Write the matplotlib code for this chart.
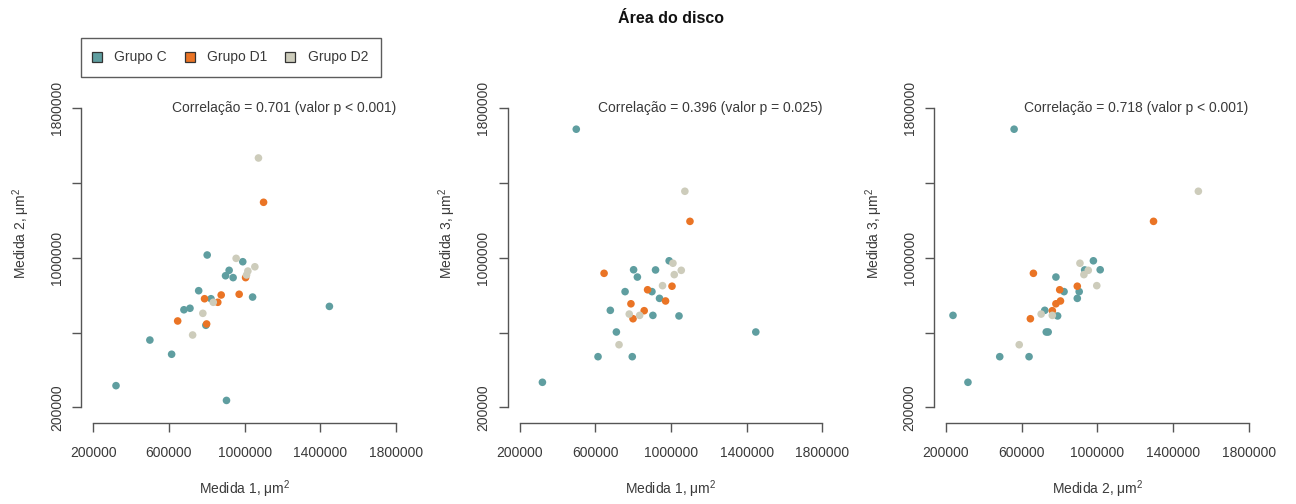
import numpy as np
import matplotlib
matplotlib.use('Agg')
import matplotlib.pyplot as plt
from matplotlib.lines import Line2D

plt.rcParams['font.family'] = ['Liberation Sans', 'DejaVu Sans']
plt.rcParams['mathtext.fontset'] = 'custom'
plt.rcParams['mathtext.rm'] = 'Liberation Sans'
plt.rcParams['mathtext.it'] = 'Liberation Sans:italic'

# areas (um^2) for each disc, three measurements per disc
grupo_c_m1 = [499000, 320000, 614000, 795000, 711000, 679000, 757000, 802000,
              822000, 899000, 918000, 939000, 904000, 990000, 1042000, 1448000]
grupo_c_m2 = [560000, 316000, 484000, 639000, 730000, 722000, 824000, 1015000,
              781000, 904000, 933000, 894000, 237000, 979000, 790000, 740000]
grupo_c_m3 = [1688000, 334000, 471000, 471000, 603000, 719000, 819000, 936000,
              897000, 819000, 935000, 783000, 692000, 984000, 689000, 603000]

grupo_d1_m1 = [646000, 788000, 799000, 858000, 876000, 971000, 1005000, 1100000]
grupo_d1_m2 = [662000, 781000, 646000, 762000, 801000, 805000, 894000, 1297000]
grupo_d1_m3 = [917000, 754000, 674000, 717000, 829000, 769000, 848000, 1195000]

grupo_d2_m1 = [725000, 779000, 834000, 955000, 1010000, 1017000, 1054000, 1073000]
grupo_d2_m2 = [587000, 703000, 762000, 997000, 908000, 929000, 952000, 1534000]
grupo_d2_m3 = [535000, 699000, 692000, 851000, 971000, 910000, 933000, 1356000]

grupos = ['Grupo C', 'Grupo D1', 'Grupo D2']
cores = ['#5F9EA0', '#EA7425', '#CDCCBB']

medidas = {
    'Grupo C':  [grupo_c_m1, grupo_c_m2, grupo_c_m3],
    'Grupo D1': [grupo_d1_m1, grupo_d1_m2, grupo_d1_m3],
    'Grupo D2': [grupo_d2_m1, grupo_d2_m2, grupo_d2_m3],
}

# (x measure, y measure, annotation)
paineis = [
    (0, 1, 'Correlação = 0.701 (valor p < 0.001)'),
    (0, 2, 'Correlação = 0.396 (valor p = 0.025)'),
    (1, 2, 'Correlação = 0.718 (valor p < 0.001)'),
]

ticks = [200000, 600000, 1000000, 1400000, 1800000]
ytick_labels = ['200000', '', '1000000', '', '1800000']

cinza = '#3a3a3a'
W, H = 1296, 504

fig = plt.figure(figsize=(W / 100, H / 100), dpi=100)

lefts_px = [81.2, 507.6, 933.9]
width_px = 326.9
top_px, bottom_px = 96.3, 419.3
height_px = bottom_px - top_px

pad = 0.04 * (ticks[-1] - ticks[0])

for i, (ix, iy, texto) in enumerate(paineis):
    ax = fig.add_axes([lefts_px[i] / W, 1 - bottom_px / H,
                       width_px / W, height_px / H])

    for g, c in zip(grupos, cores):
        ax.scatter(medidas[g][ix], medidas[g][iy], s=30, color=c,
                   edgecolors='none', zorder=3)

    ax.set_xlim(ticks[0] - pad, ticks[-1] + pad)
    ax.set_ylim(ticks[0] - pad, ticks[-1] + pad)

    for s in ['top', 'right']:
        ax.spines[s].set_visible(False)
    ax.spines['left'].set_bounds(ticks[0], ticks[-1])
    ax.spines['bottom'].set_bounds(ticks[0], ticks[-1])
    ax.spines['bottom'].set_position(('outward', 2.5))
    for s in ['left', 'bottom']:
        ax.spines[s].set_color('#555555')
        ax.spines[s].set_linewidth(1.0)

    ax.set_xticks(ticks)
    ax.set_xticklabels([str(t) for t in ticks])
    ax.set_yticks(ticks)
    ax.set_yticklabels(ytick_labels, rotation=90, va='center')
    ax.tick_params(direction='out', length=6.5, width=1.0, color='#555555',
                   labelcolor=cinza, labelsize=10)
    ax.tick_params(axis='x', pad=10)
    ax.tick_params(axis='y', pad=6)

    ax.text(ticks[-1], ticks[-1], texto, ha='right', va='center',
            fontsize=10, color=cinza)

    nome_x = 'Medida %d, μm$^2$' % (ix + 1)
    nome_y = 'Medida %d, μm$^2$' % (iy + 1)
    ax.set_xlabel(nome_x, fontsize=10, color=cinza, va='center')
    ax.xaxis.set_label_coords(0.5, (bottom_px - 489) / height_px)
    ax.set_ylabel(nome_y, fontsize=10, color=cinza, va='center', ha='center')
    ax.yaxis.set_label_coords(-60.0 / width_px, (bottom_px - 233) / height_px)

    if i == 1:
        ax.text(0.5, (bottom_px - 19) / height_px, 'Área do disco',
                transform=ax.transAxes, ha='center', va='center',
                fontsize=11.5, fontweight='bold', color='#111111')

handles = [Line2D([0], [0], marker='s', linestyle='none', markersize=6.5,
                  markerfacecolor=c, markeredgecolor='#333333',
                  markeredgewidth=0.9, label=g)
           for g, c in zip(grupos, cores)]
leg = fig.legend(handles=handles, loc='upper left',
                 bbox_to_anchor=(81 / W, 1 - 38 / H), ncol=3, fontsize=10,
                 frameon=True, fancybox=False, borderaxespad=0,
                 borderpad=0.9, handlelength=0.5, handletextpad=1.0,
                 columnspacing=1.4)
leg.get_frame().set_edgecolor('#333333')
leg.get_frame().set_linewidth(1.0)
for t in leg.get_texts():
    t.set_color(cinza)

fig.savefig('out.png', dpi=100)
